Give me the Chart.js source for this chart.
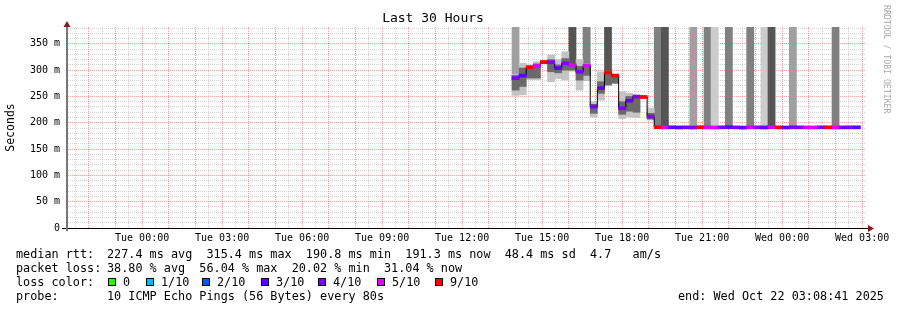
<!DOCTYPE html>
<html>
<head>
<meta charset="utf-8">
<script src="https://cdn.jsdelivr.net/npm/chart.js@4.4.1/dist/chart.umd.min.js"></script>
<style>
  body { margin: 0; background: #fff; }
  #wrap { position: relative; width: 897px; height: 310px; overflow: hidden; }
  canvas { position: absolute; left: 0; top: 0; display: block; }
  .txt { position: absolute; font-family: 'DejaVu Sans Mono', monospace; font-size: 11.8px; line-height: 14px; white-space: pre; color: #000; }
  .sw { position: absolute; width: 8px; height: 8px; box-sizing: border-box; border: 1px solid #000; }
  #mark { position: absolute; left: 882px; top: 5px; font-family: 'DejaVu Sans Mono', monospace; font-size: 8.2px; line-height: 10px; color: #aaa; writing-mode: vertical-rl; white-space: pre; }
</style>
</head>
<body>
<div id="wrap">
  <canvas id="smoke" width="897" height="310"></canvas>
  <div id="legend"></div>
  <div id="mark">RRDTOOL / TOBI OETIKER</div>
</div>
<script>
// hours relative to Tue 00:00
const viewStart = -2.855, viewEnd = 27.145;
const firstStepHour = 13.87, stepHours = 16 / 60;
const yMax = 382;

const xTickHours = [0, 3, 6, 9, 12, 15, 18, 21, 24, 27];
const xTickLabels = ['Tue 00:00', 'Tue 03:00', 'Tue 06:00', 'Tue 09:00', 'Tue 12:00',
                     'Tue 15:00', 'Tue 18:00', 'Tue 21:00', 'Wed 00:00', 'Wed 03:00'];

// median rtt per 16 min step (ms)
const medianMs = [284.7, 289.7, 305.6, 308.0, 315.4, 315.0, 303.7, 313.0, 310.0, 297.0,
                  308.7, 230.7, 265.7, 295.4, 289.7, 227.6, 242.0, 249.7, 249.0, 211.7,
                  191.5, 191.2, 191.4, 191.1, 191.3, 190.9, 191.5, 191.2, 191.0, 191.3,
                  191.6, 191.2, 190.8, 191.4, 191.3, 191.1, 191.5, 191.2, 191.0, 191.4,
                  191.3, 191.2, 191.1, 191.4, 191.3, 191.0, 191.2, 191.3, 191.3];
// lost pings out of 10 per step
const lossCount = [4, 3, 6, 5, 7, 4, 3, 4, 5, 4, 5, 4, 3, 6, 6, 4, 3, 4, 6, 4,
                   6, 5, 3, 3, 4, 4, 6, 5, 5, 4, 3, 4, 3, 5, 4, 3, 5, 6, 3, 4,
                   4, 5, 5, 4, 6, 5, 3, 4, 3];
// smoke (spread of the pings), outer and inner range, ms
const smokeLo = [252, 253, 282, 282, 312, 278, 284, 281, 298, 262, 281, 211, 243, 270, 275, 208, 211, 210, 247, 205];
const smokeHi = [292, 313, 310, 316, 318, 329, 320, 335, 312, 320, 312, 240, 297, 298, 291, 259, 256, 253, 251, 228];
const coreLo  = [262, 269, 285, 285, 313, 297, 295, 300, 300, 281, 290, 218, 256, 272, 275, 216, 222, 220, 247, 207];
const coreHi  = [290, 304, 305, 312, 317, 320, 310, 322, 311, 307, 310, 235, 278, 296, 290, 240, 250, 250, 250, 218];
// steps whose smoke runs off the top of the scale
const spikeSteps = [0, 8, 10, 13, 20, 21, 25, 27, 28, 30, 33, 35, 36, 39, 45];
const spikeFrom  = [286, 305, 281, 272, 191, 191, 191, 191, 191, 191, 191, 191, 191, 191, 191];
const spikePings = [2, 4, 3, 4, 3, 4, 2, 3, 1, 3, 3, 1, 4, 2, 3];

const lossLabels = ['0', '1/10', '2/10', '3/10', '4/10', '5/10', '9/10'];
const lossColors = ['#26ff00', '#00b8ff', '#0059ff', '#5e00ff', '#7e00ff', '#dd00ff', '#ff0000'];
const spikeShades = [null, '#cccccc', '#a0a0a0', '#808080', '#555555'];

const summaryLines = [
  ['median rtt:', '227.4 ms avg  315.4 ms max  190.8 ms min  191.3 ms now  48.4 ms sd  4.7   am/s'],
  ['packet loss:', '38.80 % avg  56.04 % max  20.02 % min  31.04 % now'],
  ['loss color:', ''],
  ['probe:', '10 ICMP Echo Pings (56 Bytes) every 80s']
];
const endStamp = 'end: Wed Oct 22 03:08:41 2025';

const majorGrid = 'rgba(255,0,0,0.38)', minorGrid = 'rgba(130,130,130,0.34)';
const bandHalf = 2.9;

const stepX = i => firstStepHour + (i + 0.5) * stepHours;
const lossBucket = n => lossColors[n > 5 ? 6 : n];
const range = (lo, hi) => lo.map((v, i) => ({ x: stepX(i), y: [v, hi[i]] }));

const xGrid = [], yGrid = [];
for (let h = -2.5; h <= 27; h += 0.5) xGrid.push({ value: h });
for (let v = 0; v <= 380; v += 10) yGrid.push({ value: v });

const barBase = { type: 'bar', grouped: false, borderWidth: 0, barPercentage: 1, categoryPercentage: 1 };

const axesPlugin = {
  id: 'rrdAxes',
  afterDraw(chart) {
    const { ctx, chartArea: a } = chart;
    ctx.save();
    ctx.strokeStyle = '#000';
    ctx.lineWidth = 1;
    ctx.beginPath();
    ctx.moveTo(62, a.bottom + 0.5);
    ctx.lineTo(a.right + 3, a.bottom + 0.5);
    ctx.stroke();
    ctx.strokeStyle = '#777';
    ctx.lineWidth = 2;
    ctx.beginPath();
    ctx.moveTo(a.left + 1, a.bottom + 3);
    ctx.lineTo(a.left + 1, a.top - 1);
    ctx.stroke();
    ctx.fillStyle = '#8b1a1a';
    ctx.beginPath();
    ctx.moveTo(a.left - 2.5, a.top);
    ctx.lineTo(a.left + 4.5, a.top);
    ctx.lineTo(a.left + 1, a.top - 6);
    ctx.closePath();
    ctx.fill();
    ctx.beginPath();
    ctx.moveTo(a.right + 2, a.bottom - 3);
    ctx.lineTo(a.right + 2, a.bottom + 4);
    ctx.lineTo(a.right + 8, a.bottom + 0.5);
    ctx.closePath();
    ctx.fill();
    ctx.restore();
  }
};

Chart.defaults.font.family = "'DejaVu Sans Mono', monospace";
Chart.defaults.color = '#000';

new Chart('smoke', {
  type: 'bar',
  plugins: [axesPlugin],
  data: {
    datasets: [
      { ...barBase, order: 5,
        data: spikeSteps.map((s, k) => ({ x: stepX(s), y: [spikeFrom[k], yMax] })),
        backgroundColor: spikePings.map(p => spikeShades[p]) },
      { ...barBase, order: 4, data: range(smokeLo, smokeHi), backgroundColor: '#c4c4c4' },
      { ...barBase, order: 3, data: range(coreLo, coreHi), backgroundColor: '#6a6a6a' },
      { type: 'line', order: 2, stepped: 'middle', borderColor: '#000', borderWidth: 1,
        pointRadius: 0, fill: false,
        data: medianMs.map((m, i) => ({ x: stepX(i), y: m })) },
      { ...barBase, order: 1,
        data: medianMs.map((m, i) => ({ x: stepX(i), y: [m - bandHalf, m + bandHalf] })),
        backgroundColor: lossCount.map(lossBucket) }
    ]
  },
  options: {
    responsive: false,
    animation: false,
    events: [],
    layout: { padding: { left: 0, right: 31, top: 0, bottom: 62 } },
    plugins: {
      legend: { display: false },
      tooltip: { enabled: false },
      title: {
        display: true, text: 'Last 30 Hours', color: '#000',
        font: { size: 13, weight: 'normal' }, padding: { top: 11, bottom: 0.4 }
      }
    },
    scales: {
      x: {
        type: 'linear', min: viewStart, max: viewEnd, offset: false,
        afterBuildTicks: s => { s.ticks = xGrid.map(t => ({ ...t })); },
        afterFit: s => { s.height = 20; },
        grid: { offset: false, drawTicks: false, color: c => (c.tick && c.tick.value % 1 === 0 ? majorGrid : minorGrid) },
        border: { display: false, dash: [1, 1] },
        ticks: {
          autoSkip: false, maxRotation: 0, minRotation: 0, padding: 4,
          font: { size: 10 }, color: '#000',
          callback: v => { const k = xTickHours.indexOf(v); return k >= 0 ? xTickLabels[k] : ''; }
        }
      },
      y: {
        min: 0, max: yMax,
        afterBuildTicks: s => { s.ticks = yGrid.map(t => ({ ...t })); },
        afterFit: s => { s.width = 66; },
        grid: { drawTicks: false, color: c => (c.tick && c.tick.value % 50 === 0 ? majorGrid : minorGrid) },
        border: { display: false, dash: [1, 1] },
        title: { display: true, text: 'Seconds', color: '#000', font: { size: 11.5 }, padding: { top: 4, bottom: 0 } },
        ticks: {
          autoSkip: false, padding: 6, font: { size: 10 }, color: '#000',
          callback: v => (v % 50 === 0 ? (v === 0 ? '0' : v + ' m') : '')
        }
      }
    }
  }
});

// text legend under the graph
const legend = document.getElementById('legend');
const addText = (x, y, s) => {
  const d = document.createElement('div');
  d.className = 'txt';
  d.style.left = x + 'px';
  d.style.top = y + 'px';
  d.textContent = s;
  legend.appendChild(d);
};
summaryLines.forEach(([label, value], r) => {
  addText(16, 247 + r * 14, label);
  if (value) addText(107, 247 + r * 14, value);
});
const swatchX = [108, 146, 202, 261, 318, 377, 435];
lossLabels.forEach((lab, k) => {
  const sq = document.createElement('div');
  sq.className = 'sw';
  sq.style.left = swatchX[k] + 'px';
  sq.style.top = '278px';
  sq.style.background = lossColors[k];
  legend.appendChild(sq);
  addText(swatchX[k] + 15, 275, lab);
});
addText(678, 289, endStamp);
</script>
</body>
</html>
